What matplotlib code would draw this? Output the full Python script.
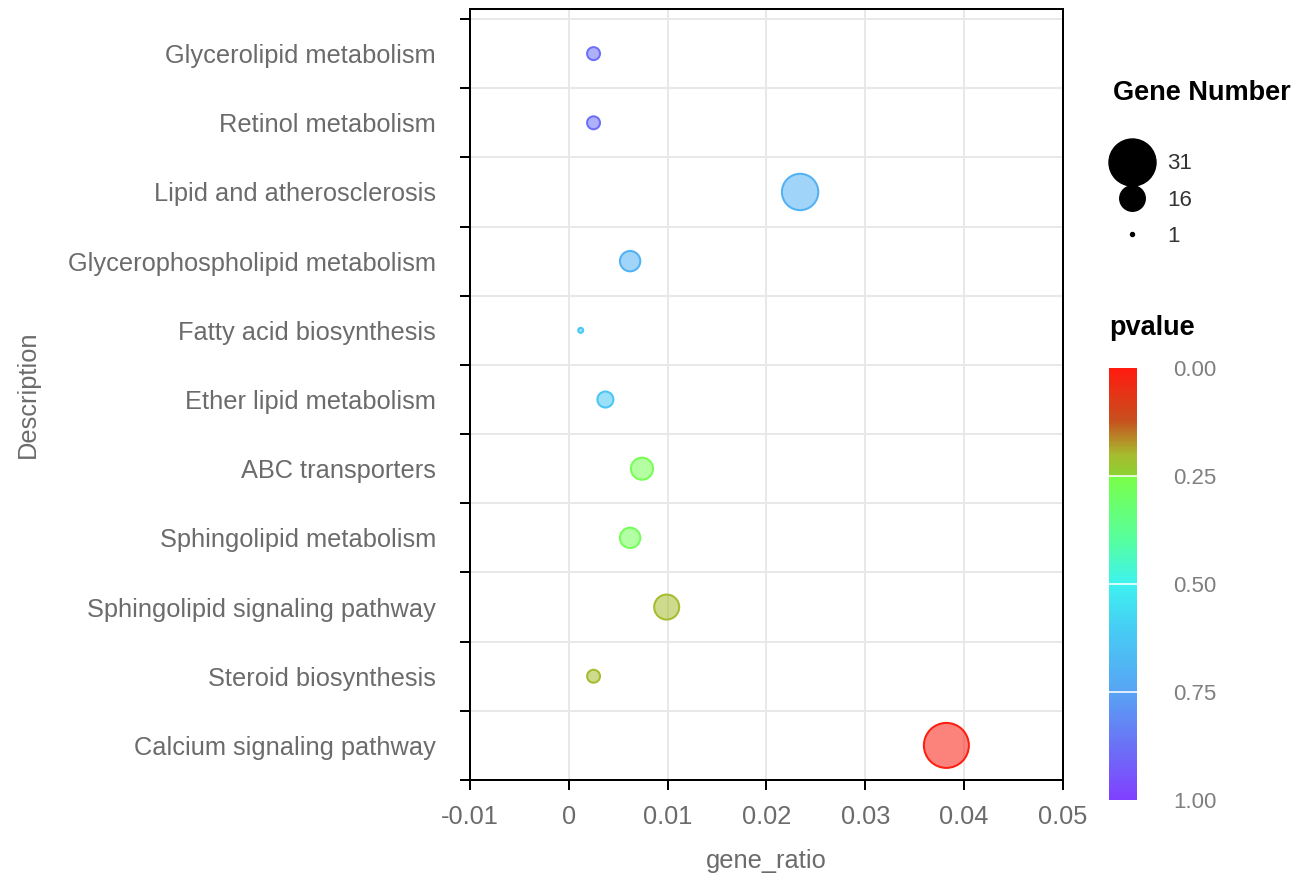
import numpy as np
import matplotlib
matplotlib.use("Agg")
import matplotlib.pyplot as plt
from matplotlib.colors import LinearSegmentedColormap, Normalize
from matplotlib.colorbar import ColorbarBase
from matplotlib.lines import Line2D

plt.rcParams['font.family'] = ['Liberation Sans', 'DejaVu Sans']

# pathways, listed top to bottom as in the chart
pathways = ['Glycerolipid metabolism', 'Retinol metabolism', 'Lipid and atherosclerosis',
            'Glycerophospholipid metabolism', 'Fatty acid biosynthesis', 'Ether lipid metabolism',
            'ABC transporters', 'Sphingolipid metabolism', 'Sphingolipid signaling pathway',
            'Steroid biosynthesis', 'Calcium signaling pathway']
gene_ratio = [0.0025, 0.0025, 0.0234, 0.0062, 0.0012, 0.0037, 0.0074, 0.0062, 0.0099, 0.0025, 0.0382]
gene_number = [2, 2, 19, 5, 1, 3, 6, 5, 8, 2, 31]
pvalue = [0.88, 0.88, 0.70, 0.70, 0.62, 0.63, 0.27, 0.28, 0.20, 0.20, 0.01]

size_breaks = [31, 16, 1]
pvalue_ticks = [0.0, 0.25, 0.5, 0.75, 1.0]
x_ticks = [-0.01, 0, 0.01, 0.02, 0.03, 0.04, 0.05]
x_tick_labels = ['-0.01', '0', '0.01', '0.02', '0.03', '0.04', '0.05']

DPI = 100
PX = 72.0 / DPI  # points per pixel

cmap = LinearSegmentedColormap.from_list('pv', [
    (0.0, '#ff1a10'), (0.12, '#c8501e'), (0.2, '#a6bc2e'), (0.249, '#8cd232'),
    (0.25, '#7aff48'), (0.4, '#55ffa0'), (0.5, '#3ef2f0'), (0.6, '#46cef4'),
    (0.75, '#58a4f4'), (0.87, '#6a74f6'), (1.0, '#8040ff')])
norm = Normalize(0, 1)


def point_px(n):
    # sqrt area scaling between smallest and largest gene counts
    lo, hi = min(gene_number), max(gene_number)
    return 5 + 40 * np.sqrt((np.asarray(n) - lo) / (hi - lo)) ** 0.95


def legend_px(n):
    return 4 + 43 * (n - 1) / 30.0


fig = plt.figure(figsize=(1308 / DPI, 880 / DPI), dpi=DPI)
ax = fig.add_axes([470 / 1308, 1 - 780 / 880, 593 / 1308, 771 / 880])

ypos = np.arange(len(pathways))[::-1]
cols = cmap(norm(pvalue))
face = cols.copy()
face[:, 3] = 0.55
ax.scatter(gene_ratio, ypos, s=(point_px(gene_number) * PX) ** 2, c=face,
           edgecolors=cols, linewidths=2 * PX, zorder=3)

ax.set_xlim(-0.01, 0.05)
ax.set_ylim(-0.5, 10.645)
ax.set_xticks(x_ticks)
ax.set_xticklabels(x_tick_labels)
ax.set_yticks(np.arange(-0.5, 11, 1))
ax.set_yticklabels([])
ax.set_yticks(ypos, minor=True)
ax.set_yticklabels(pathways, minor=True)
ax.grid(True, which='major', color='#e8e8e8', lw=2 * PX, zorder=0)
ax.set_axisbelow(True)

for sp in ax.spines.values():
    sp.set_linewidth(2 * PX)
    sp.set_color('black')

ax.tick_params(axis='both', which='major', length=10 * PX, width=2 * PX, color='black',
               labelsize=18.3, labelcolor='#6b6b6b')
ax.tick_params(axis='x', pad=11)
ax.tick_params(axis='y', which='minor', length=0, pad=34 * PX, labelsize=18.3, labelcolor='#6b6b6b')

ax.set_xlabel('gene_ratio', fontsize=18.3, color='#6b6b6b', labelpad=14)
ax.set_ylabel('Description', fontsize=18.3, color='#6b6b6b', labelpad=20)

# size legend
fig.text(1113 / 1308, 1 - 93 / 880, 'Gene Number', ha='left', va='center',
         fontsize=19.5, fontweight='bold', color='black')
handles = [Line2D([], [], marker='o', linestyle='', color='black',
                  markersize=legend_px(b) * PX) for b in size_breaks]
leg = fig.legend(handles, [str(b) for b in size_breaks],
                 loc='center left', bbox_to_anchor=(1101 / 1308, 1 - 200 / 880),
                 frameon=False, fontsize=16, labelspacing=0.68, handletextpad=0.56,
                 handlelength=2.0, borderaxespad=0)
for t in leg.get_texts():
    t.set_color('#333333')

# colour bar
cax = fig.add_axes([1109 / 1308, 1 - 800 / 880, 28 / 1308, 432 / 880])
cb = ColorbarBase(cax, cmap=cmap, norm=norm, orientation='vertical')
cb.outline.set_visible(False)
cax.invert_yaxis()
cb.set_ticks(pvalue_ticks)
cb.set_ticklabels(['%.2f' % v for v in pvalue_ticks])
cax.tick_params(length=0, pad=36 * PX, labelsize=16, labelcolor='#7f7f7f')
for v in pvalue_ticks[1:-1]:
    cax.axhline(v, color='white', lw=2 * PX, alpha=0.8)
cax.set_title('pvalue', loc='left', fontsize=19.5, fontweight='bold', pad=24)

fig.savefig('out.png', dpi=DPI)
